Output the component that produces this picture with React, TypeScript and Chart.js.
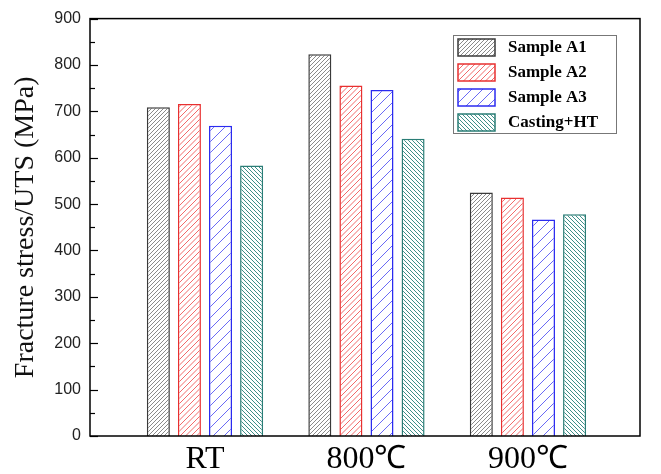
import React, { useEffect, useRef } from "react";
import { Chart, registerables } from "chart.js";

Chart.register(...registerables);

const categories = ["RT", "800℃", "900℃"];
const seriesNames = ["Sample A1", "Sample A2", "Sample A3", "Casting+HT"];
const sampleA1 = [709, 823, 525];
const sampleA2 = [716, 756, 514];
const sampleA3 = [669, 746, 467];
const castingHT = [583, 641, 478];
const yTicks = [0, 100, 200, 300, 400, 500, 600, 700, 800, 900];

const seriesValues = [sampleA1, sampleA2, sampleA3, castingHT];
const borderColors = ["#3a3a3a", "#e83030", "#2b2bf0", "#2a7d76"];
const hatchColors = ["#8a8a8a", "#f26a6a", "#6a6af5", "#3f8f88"];
const hatchSpacing = [4, 5.5, 11, 4];
const hatchDir = [1, 1, 1, -1];

function makePattern(color: string, s: number, dir: number): CanvasPattern | string {
  const size = Math.round(s * 4);
  const c = document.createElement("canvas");
  c.width = size;
  c.height = size;
  const ctx = c.getContext("2d");
  if (!ctx) return color;
  ctx.fillStyle = "#ffffff";
  ctx.fillRect(0, 0, size, size);
  ctx.strokeStyle = color;
  ctx.lineWidth = 1;
  for (let k = -size; k <= size * 2; k += s) {
    ctx.beginPath();
    if (dir > 0) {
      ctx.moveTo(k, size);
      ctx.lineTo(k + size, 0);
    } else {
      ctx.moveTo(k, 0);
      ctx.lineTo(k + size, size);
    }
    ctx.stroke();
  }
  const p = ctx.createPattern(c, "repeat");
  return p || color;
}

const framePlugin = {
  id: "frame",
  afterDatasetsDraw(chart: any) {
    const { ctx, chartArea } = chart;
    const { left, right, top, bottom } = chartArea;
    const y = chart.scales.y;
    ctx.save();
    ctx.strokeStyle = "#000";
    ctx.lineWidth = 1.5;
    ctx.strokeRect(left, top, right - left, bottom - top);
    ctx.lineWidth = 1.2;
    for (let v = 0; v <= 900; v += 50) {
      const py = Math.round(y.getPixelForValue(v)) + 0.5;
      const len = v % 100 === 0 ? 8 : 5;
      ctx.beginPath();
      ctx.moveTo(left, py);
      ctx.lineTo(left + len, py);
      ctx.stroke();
    }
    // legend
    const bx = 453, by = 35, bw = 163, bh = 98;
    ctx.fillStyle = "#fff";
    ctx.fillRect(bx, by, bw, bh);
    ctx.strokeStyle = "#777";
    ctx.lineWidth = 1;
    ctx.strokeRect(bx + 0.5, by + 0.5, bw, bh);
    chart.data.datasets.forEach((ds: any, i: number) => {
      const sy = 39 + i * 25;
      ctx.fillStyle = ds.backgroundColor;
      ctx.fillRect(458, sy, 37, 17);
      ctx.strokeStyle = ds.borderColor;
      ctx.lineWidth = 1.5;
      ctx.strokeRect(458, sy, 37, 17);
      ctx.fillStyle = "#000";
      ctx.font = "bold 17px 'Liberation Serif', 'Times New Roman', serif";
      ctx.textBaseline = "middle";
      ctx.textAlign = "left";
      ctx.fillText(ds.label, 508, sy + 9);
    });
    ctx.restore();
  },
};

export default function App() {
  const ref = useRef<HTMLCanvasElement | null>(null);
  useEffect(() => {
    if (!ref.current) return;
    const datasets = seriesNames.map((name, i) => ({
      label: name,
      data: categories.map((_, j) => ({ x: j + 1, y: seriesValues[i][j] })),
      backgroundColor: makePattern(hatchColors[i], hatchSpacing[i], hatchDir[i]),
      borderColor: borderColors[i],
      borderWidth: 1.5,
      categoryPercentage: 0.77,
      barPercentage: 0.74,
    }));
    const chart = new Chart(ref.current, {
      type: "bar",
      data: { datasets: datasets as any },
      options: {
        animation: false,
        responsive: true,
        maintainAspectRatio: false,
        layout: { padding: { left: 0, right: 21, top: 16, bottom: 0 } },
        plugins: { legend: { display: false }, tooltip: { enabled: false } },
        scales: {
          x: {
            type: "linear",
            offset: false,
            min: 0.288,
            max: 3.694,
            grid: { display: false, drawTicks: false, offset: false },
            border: { display: false },
            afterBuildTicks: (s: any) => {
              s.ticks = categories.map((_, j) => ({ value: j + 1 }));
            },
            afterFit: (s: any) => {
              s.height = 38;
            },
            ticks: {
              padding: 4,
              color: "#000",
              font: { family: "'Liberation Serif', 'Times New Roman', serif", size: 32 },
              callback: (v: any) => categories[Math.round(Number(v)) - 1] ?? "",
              maxRotation: 0,
              autoSkip: false,
            },
          },
          y: {
            min: 0,
            max: 900,
            grid: { display: false, drawTicks: false },
            border: { display: false },
            afterBuildTicks: (s: any) => {
              s.ticks = yTicks.map((v) => ({ value: v }));
            },
            afterFit: (s: any) => {
              s.width = 90;
            },
            ticks: {
              padding: 9,
              color: "#222",
              font: { family: "'Liberation Sans', Arial, sans-serif", size: 16 },
            },
            title: {
              display: true,
              text: "Fracture stress/UTS (MPa)",
              color: "#111",
              padding: { top: 9, bottom: 0 },
              font: { family: "'Liberation Serif', 'Times New Roman', serif", size: 28 },
            },
          },
        },
      } as any,
      plugins: [framePlugin],
    });
    return () => chart.destroy();
  }, []);
  return (
    <div style={{ position: "fixed", left: 0, top: 0, width: 661, height: 474, background: "#fff" }}>
      <canvas ref={ref} />
    </div>
  );
}
